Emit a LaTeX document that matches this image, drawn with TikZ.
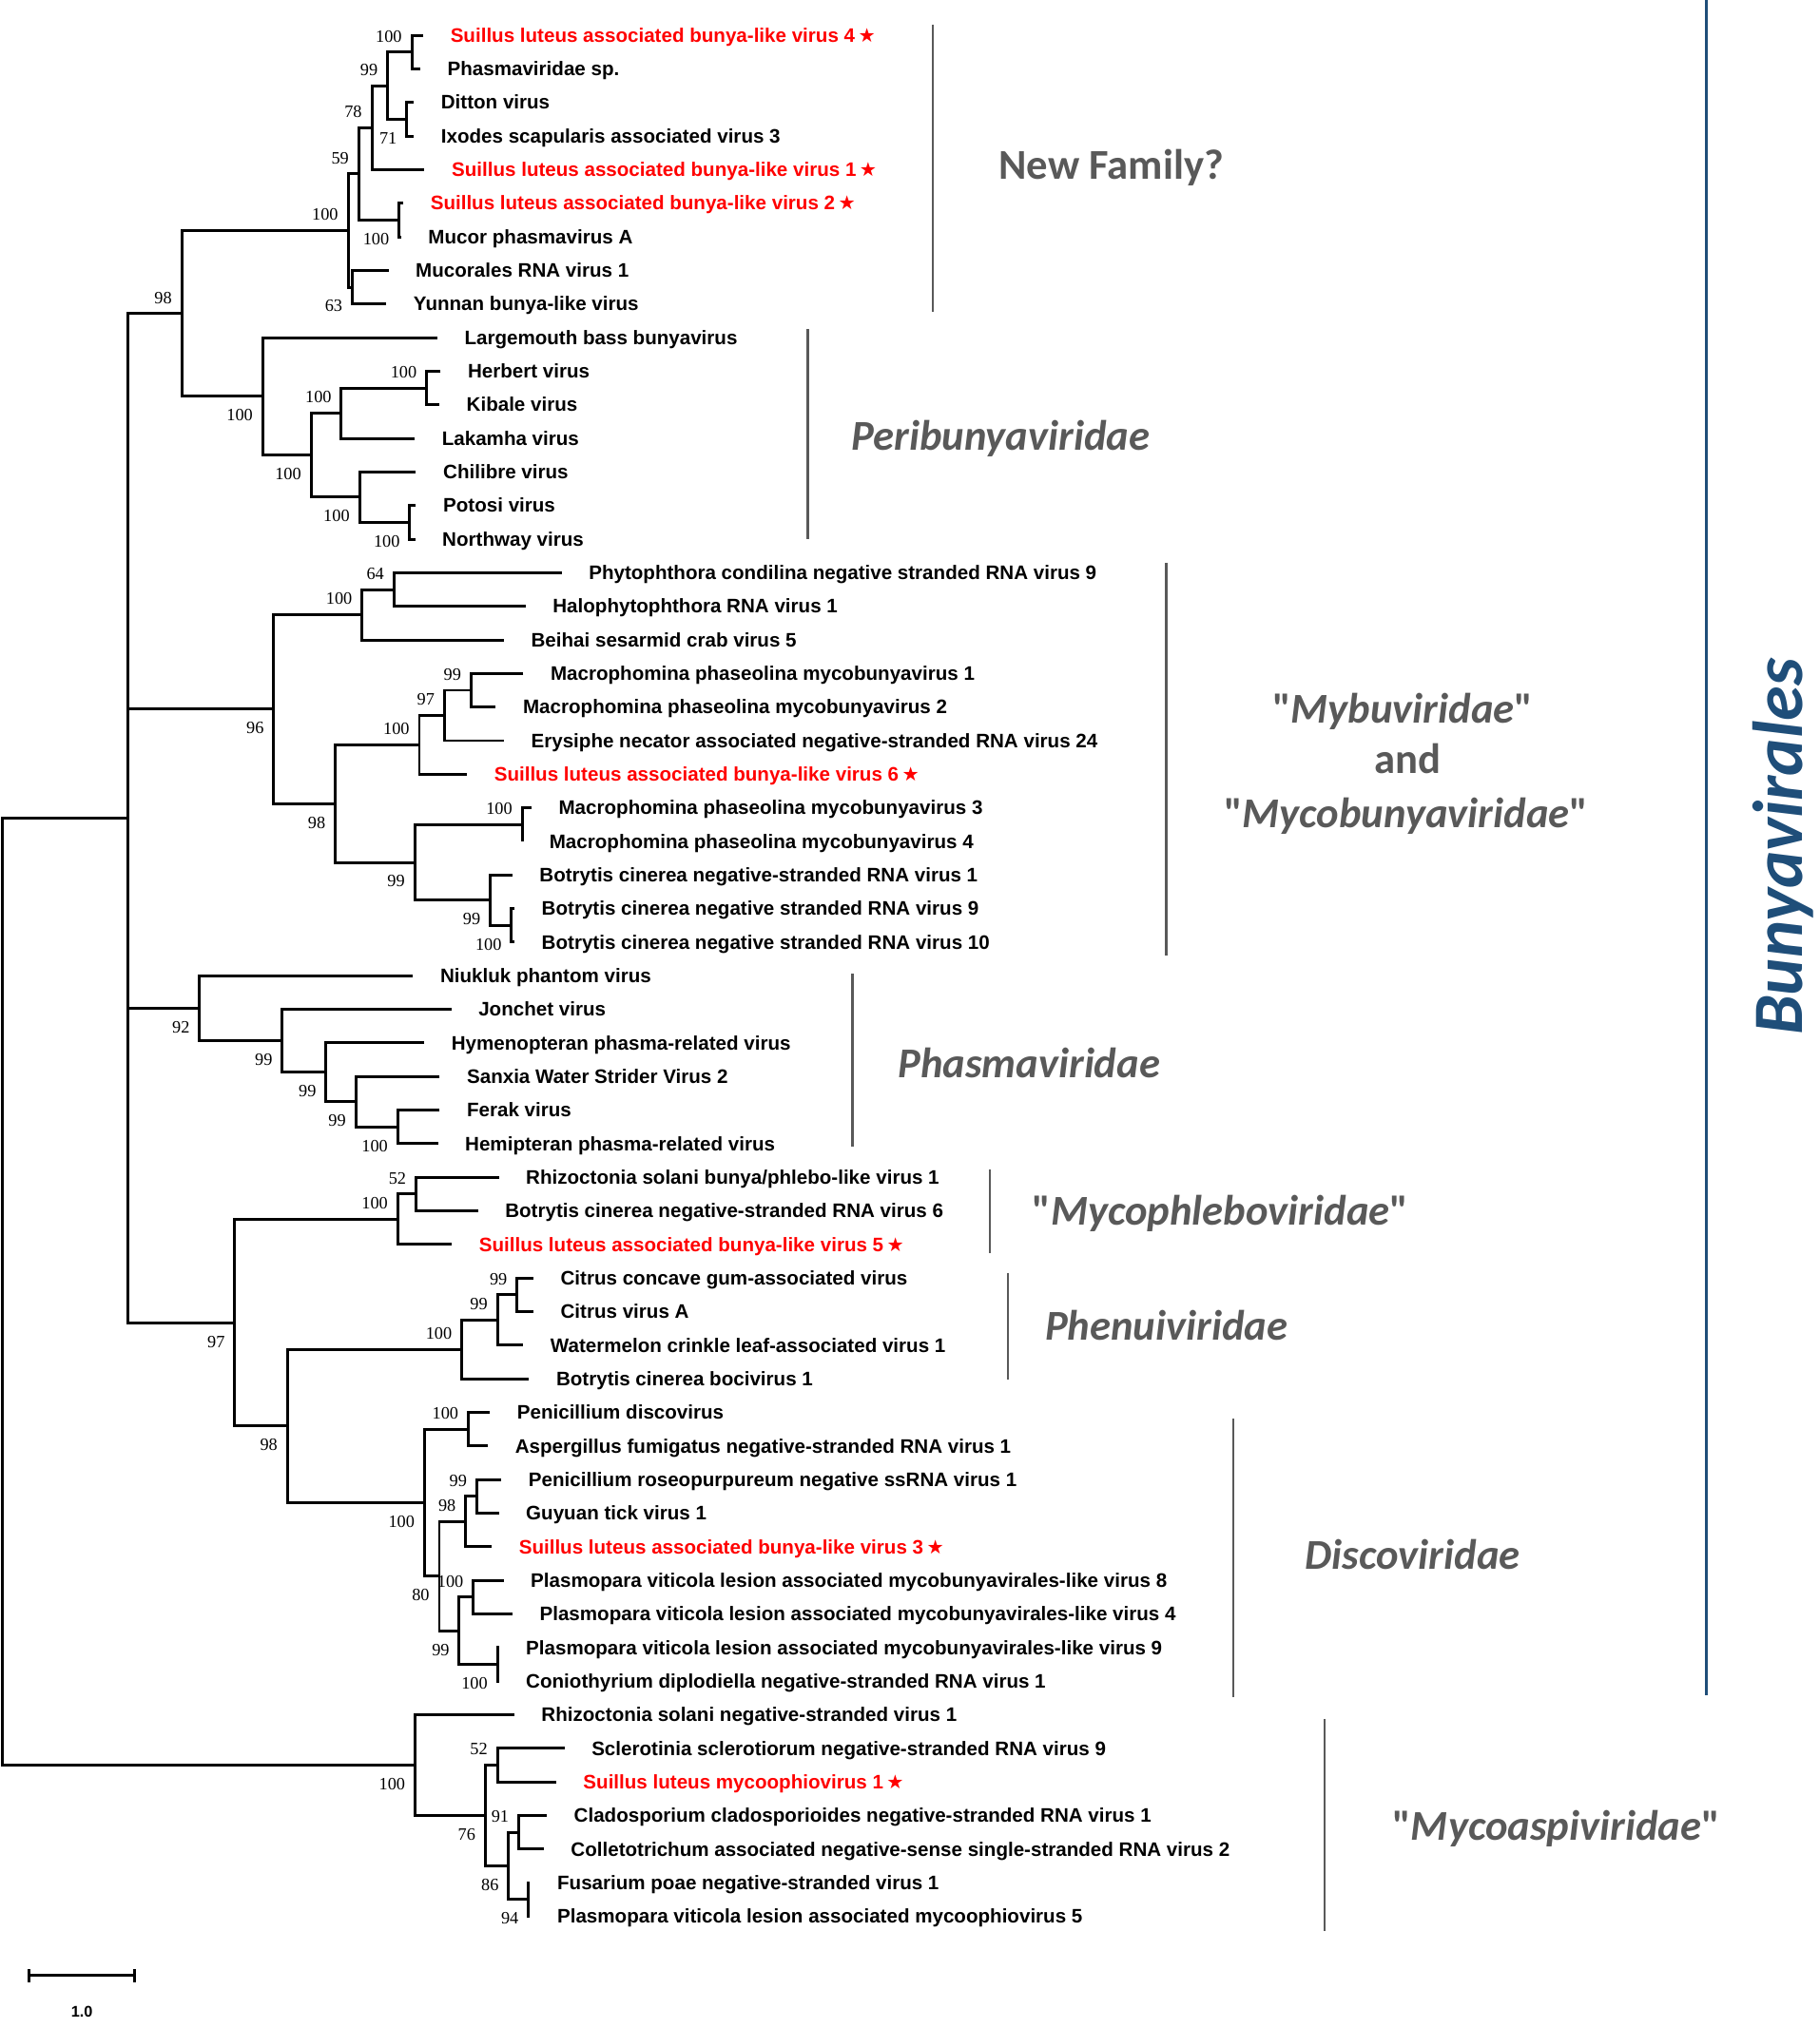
\documentclass[tikz,border=0pt]{standalone}
\usepackage{fontspec}
\setmainfont{Liberation Sans}
\newfontfamily\bootfont{Liberation Serif}
\newfontfamily\cladefont{Carlito}
\newfontfamily\starfont{DejaVu Sans}
\usetikzlibrary{calc}
\definecolor{cladegrey}{RGB}{89,89,89}
\definecolor{ordblue}{RGB}{31,78,121}

% clade: name, x of the node, upper child, lower child
\newcommand{\clade}[4]{%
  \path let \p1=($(#3)!0.5!(#4)$) in (#2pt,\y1) coordinate (#1);
  \draw[branch] (#3) -| (#1) |- (#4);
}
\newcommand{\nstar}{\hspace{2.5pt}{\starfont\mdseries\fontsize{15}{15}\selectfont ★}}

\begin{document}
\begin{tikzpicture}[x=1pt, y=-1pt,
    declare function={ry(\r)=1.3+26.1*\r;},
    branch/.style={line width=2.2pt},
    leaf/.style={anchor=base west, inner sep=0pt, xshift=21pt, yshift=-5.3pt,
      font=\bfseries\fontsize{15.2}{18}\selectfont},
    newvir/.style={leaf, text=red},
    bs/.style={inner sep=0pt, font=\bootfont\fontsize{13.5}{14}\selectfont},
    bsu/.style={bs, anchor=south east, xshift=-7.5pt, yshift=7.5pt},
    bsd/.style={bs, anchor=north east, xshift=-7.5pt, yshift=-10pt},
    bracket/.style={line width=1.8pt, draw=cladegrey},
    family/.style={anchor=base, inner sep=0pt, text=cladegrey,
      font=\cladefont\bfseries\fontsize{33}{40}\selectfont},
    familyit/.style={family, font=\cladefont\bfseries\itshape\fontsize{33}{40}\selectfont}]
  \useasboundingbox (0,0) rectangle (1414,1575.8);

  % leaves
  \foreach \k/\xe/\txt in {
      2/326.5/Phasmaviridae sp.,
      3/321.5/Ditton virus,
      4/321.5/Ixodes scapularis associated virus 3,
      7/311.6/Mucor phasmavirus A,
      8/301.8/Mucorales RNA virus 1,
      9/300.1/Yunnan bunya-like virus,
      10/339.7/Largemouth bass bunyavirus,
      11/342.3/Herbert virus,
      12/341.3/Kibale virus,
      13/322.2/Lakamha virus,
      14/323.2/Chilibre virus,
      15/323.2/Potosi virus,
      16/322.5/Northway virus,
      17/436.3/Phytophthora condilina negative stranded RNA virus 9,
      18/408.3/Halophytophthora RNA virus 1,
      19/391.5/Beihai sesarmid crab virus 5,
      20/406.6/Macrophomina phaseolina mycobunyavirus 1,
      21/385.2/Macrophomina phaseolina mycobunyavirus 2,
      22/391.5/Erysiphe necator associated negative-stranded RNA virus 24,
      24/412.9/Macrophomina phaseolina mycobunyavirus 3,
      25/405.7/Macrophomina phaseolina mycobunyavirus 4,
      26/398/Botrytis cinerea negative-stranded RNA virus 1,
      27/399.7/Botrytis cinerea negative stranded RNA virus 9,
      28/399.7/Botrytis cinerea negative stranded RNA virus 10,
      29/320.9/Niukluk phantom virus,
      30/350.6/Jonchet virus,
      31/329.6/Hymenopteran phasma-related virus,
      32/341.6/Sanxia Water Strider Virus 2,
      33/341.6/Ferak virus,
      34/340.2/Hemipteran phasma-related virus,
      35/387.5/{Rhizoctonia solani bunya/phlebo-like virus 1},
      36/371.3/Botrytis cinerea negative-stranded RNA virus 6,
      38/414.4/Citrus concave gum-associated virus,
      39/414.4/Citrus virus A,
      40/406.5/Watermelon crinkle leaf-associated virus 1,
      41/411/Botrytis cinerea bocivirus 1,
      42/380.6/Penicillium discovirus,
      43/379.1/Aspergillus fumigatus negative-stranded RNA virus 1,
      44/389.5/Penicillium roseopurpureum negative ssRNA virus 1,
      45/387.5/Guyuan tick virus 1,
      47/391.2/Plasmopara viticola lesion associated mycobunyavirales-like virus 8,
      48/398.1/Plasmopara viticola lesion associated mycobunyavirales-like virus 4,
      49/387.5/Plasmopara viticola lesion associated mycobunyavirales-like virus 9,
      50/387.5/Coniothyrium diplodiella negative-stranded RNA virus 1,
      51/399.5/Rhizoctonia solani negative-stranded virus 1,
      52/438.5/Sclerotinia sclerotiorum negative-stranded RNA virus 9,
      54/424.8/Cladosporium cladosporioides negative-stranded RNA virus 1,
      55/422.4/Colletotrichum associated negative-sense single-stranded RNA virus 2,
      56/411.8/Fusarium poae negative-stranded virus 1,
      57/411.8/Plasmopara viticola lesion associated mycoophiovirus 5}{
    \coordinate (t\k) at (\xe,{ry(\k)});
    \node[leaf] (v\k) at (t\k) {\txt};
  }
  % new viruses
  \foreach \k/\xe/\txt in {
      1/328.8/Suillus luteus associated bunya-like virus 4,
      5/329.8/Suillus luteus associated bunya-like virus 1,
      6/313.3/Suillus luteus associated bunya-like virus 2,
      23/362.8/Suillus luteus associated bunya-like virus 6,
      37/351/Suillus luteus associated bunya-like virus 5,
      46/382/Suillus luteus associated bunya-like virus 3,
      53/432/Suillus luteus mycoophiovirus 1}{
    \coordinate (t\k) at (\xe,{ry(\k)});
    \node[newvir] (v\k) at (t\k) {\txt\nstar};
  }

  % tree
  \clade{a1}{319.9}{t1}{t2}
  \clade{a2}{316}{t3}{t4}
  \clade{a3}{301.1}{a1}{a2}
  \clade{a4}{288.9}{a3}{t5}
  \clade{a5}{310}{t6}{t7}
  \clade{a6}{278.7}{a4}{a5}
  \clade{a7}{273.7}{t8}{t9}
  \clade{a8}{270.4}{a6}{a7}
  \clade{b1}{331.4}{t11}{t12}
  \clade{b2}{265.2}{b1}{t13}
  \clade{b3}{318.3}{t15}{t16}
  \clade{b4}{279.3}{t14}{b3}
  \clade{b5}{241.7}{b2}{b4}
  \clade{b6}{204.1}{t10}{b5}
  \clade{n98}{141.2}{a8}{b6}
  \clade{c1}{306}{t17}{t18}
  \clade{c2}{281.3}{c1}{t19}
  \clade{c3}{366}{t20}{t21}
  \clade{c4}{345.3}{c3}{t22}
  \clade{c5}{325.8}{c4}{t23}
  \clade{c6}{405.7}{t24}{t25}
  \clade{c7}{397.4}{t27}{t28}
  \clade{c8}{380.9}{t26}{c7}
  \clade{c9}{322.2}{c6}{c8}
  \clade{c10}{260.5}{c5}{c9}
  \clade{c11}{212.7}{c2}{c10}
  \clade{d1}{309}{t33}{t34}
  \clade{d2}{276.4}{t32}{d1}
  \clade{d3}{253.3}{t31}{d2}
  \clade{d4}{219.3}{t30}{d3}
  \clade{d5}{155}{t29}{d4}
  \clade{e1}{323.2}{t35}{t36}
  \clade{e2}{309}{e1}{t37}
  \clade{f1}{401.7}{t38}{t39}
  \clade{f2}{386.5}{f1}{t40}
  \clade{f3}{358.8}{f2}{t41}
  \clade{g1}{363.8}{t42}{t43}
  \clade{g2}{370.4}{t44}{t45}
  \clade{g3}{361.8}{g2}{t46}
  \clade{g4}{367.7}{t47}{t48}
  \clade{g5}{386.5}{t49}{t50}
  \clade{g6}{356.8}{g4}{g5}
  \clade{g7}{341.3}{g3}{g6}
  \clade{g8}{329.8}{g1}{g7}
  \clade{n98b}{223.3}{f3}{g8}
  \clade{n97}{182.4}{e2}{n98b}
  \clade{bb}{99.6}{n98}{n97}
  \draw[branch] (bb) |- (c11);
  \draw[branch] (bb) |- (d5);
  \clade{i1}{386.5}{t52}{t53}
  \clade{i2}{403}{t54}{t55}
  \clade{i3}{410.6}{t56}{t57}
  \clade{i4}{395.1}{i2}{i3}
  \clade{i5}{377}{i1}{i4}
  \clade{i6}{322.5}{t51}{i5}
  \clade{root}{1.5}{bb}{i6}

  % bootstrap values
  \foreach \nd/\v in {a1/100, a3/99, a4/78, a6/59, a8/100, b1/100, b2/100, n98/98,
      c1/64, c2/100, c3/99, c4/97, c5/100, c6/100, e1/52, e2/100, f1/99, f2/99,
      f3/100, g1/100, g2/99, g3/98, g4/100, i1/52, i2/91}
    \node[bsu] (\nd-bs) at (\nd) {\v};
  \foreach \nd/\v in {a2/71, a5/100, a7/63, b3/100, b4/100, b5/100, b6/100, c7/100,
      c8/99, c9/99, c10/98, c11/96, d1/100, d2/99, d3/99, d4/99, d5/92, g5/100,
      g6/99, g7/80, g8/100, n98b/98, n97/97, i3/94, i4/86, i5/76, i6/100}
    \node[bsd] (\nd-bs) at (\nd) {\v};

  % families
  \draw[bracket] (724.6,19.2) -- (724.6,242.3);
  \draw[bracket] (627.5,255.8) -- (627.5,419);
  \draw[bracket] (906.1,437.2) -- (906.1,742.3);
  \draw[bracket] (662.3,756.8) -- (662.3,891.3);
  \draw[bracket] (769.1,909) -- (769.1,973.9);
  \draw[bracket] (783.1,989) -- (783.1,1071.8);
  \draw[bracket] (958.3,1102.3) -- (958.3,1319);
  \draw[bracket] (1029.2,1335.5) -- (1029.2,1500.3);
  \node[family] (newfam) at (863.3,139.5) {New Family?};
  \node[familyit] (peri) at (777.4,349.5) {Peribunyaviridae};
  \node[family] (mybu) at (1089.8,562) {"\textit{Mybuviridae}"};
  \node[family] (mybuand) at (1093.5,601) {and};
  \node[family] (mycobu) at (1092.4,643) {"\textit{Mycobunyaviridae}"};
  \node[familyit] (phasma) at (799.5,837.5) {Phasmaviridae};
  \node[family] (phlebo) at (948.1,952) {"\textit{Mycophleboviridae}"};
  \node[familyit] (phenui) at (906.2,1041) {Phenuiviridae};
  \node[familyit] (disco) at (1097.6,1219.5) {Discoviridae};
  \node[family] (aspi) at (1209,1430) {"\textit{Mycoaspiviridae}"};

  % order
  \draw[line width=2.2pt, draw=ordblue] (1326,0) -- (1326,1317);
  \node[family, rotate=90, text=ordblue,
    font=\cladefont\bfseries\itshape\fontsize{55}{60}\selectfont] (order) at (1400,658) {Bunyavirales};

  % scale bar
  \coordinate (sbl) at (22.8,1535);
  \coordinate (sbr) at (104.5,1535);
  \draw[branch] (sbl) -- (sbr);
  \draw[branch] ($(sbl)+(0,-5)$) -- ($(sbl)+(0,5)$);
  \draw[branch] ($(sbr)+(0,-5)$) -- ($(sbr)+(0,5)$);
  \node[font=\bfseries\fontsize{12}{14}\selectfont] (sbtxt) at ($(sbl)!0.5!(sbr)+(0,28)$) {1.0};
\end{tikzpicture}
\end{document}
